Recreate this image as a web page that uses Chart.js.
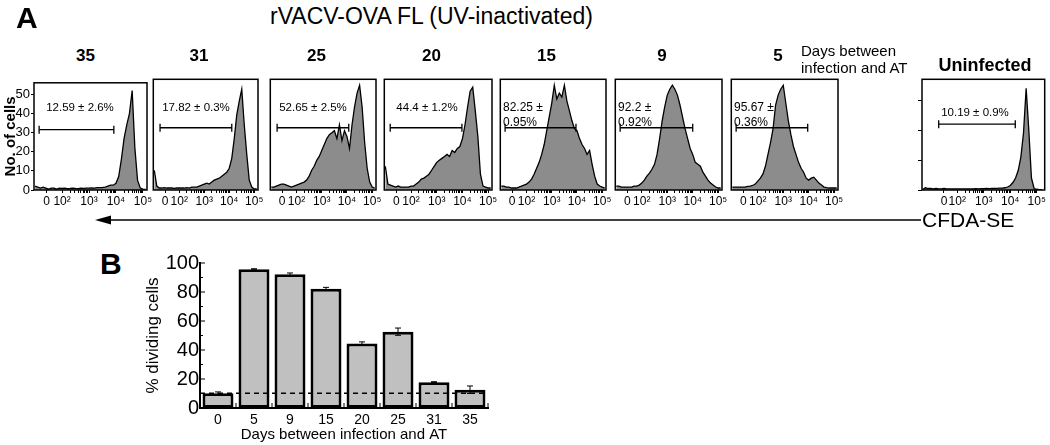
<!DOCTYPE html>
<html>
<head>
<meta charset="utf-8">
<script src="https://cdn.jsdelivr.net/npm/chart.js@4.4.0/dist/chart.umd.min.js"></script>
<style>
  body { margin: 0; background: #fff; }
  #fig { position: relative; width: 1050px; height: 445px; overflow: hidden;
         font-family: "Liberation Sans", Arial, sans-serif; color: #000; }
  #fig canvas { position: absolute; }
  .t { position: absolute; white-space: nowrap; line-height: 1; }
  .b { font-weight: bold; }
</style>
</head>
<body>
<div id="fig"></div>
<script>
// CFSE histograms: x = position on the biexponential display in decades ("0" sits at ~1.45), y = no. of cells
const cfseGrid = [1.0,1.1,1.2,1.3,1.4,1.5,1.6,1.7,1.8,1.9,2.0,2.1,2.2,2.3,2.4,2.5,2.6,2.7,2.8,2.9,
                  3.0,3.1,3.2,3.3,3.4,3.5,3.6,3.7,3.8,3.9,4.0,4.1,4.2,4.3,4.4,4.5,4.6,4.7,4.8,4.9,5.0,5.1];
const uninfGrid = [0.7,0.8,0.9,1.0,1.1,1.2,1.3,1.4,1.5,1.6,1.7,1.8,1.9,2.0,2.1,2.2,2.3,2.4,2.5,2.6,2.7,2.8,2.9,
                   3.0,3.1,3.2,3.3,3.4,3.5,3.6,3.7,3.8,3.9,4.0,4.1,4.2,4.3,4.4,4.5,4.6,4.7,4.8,4.9,5.0,5.1,5.2];

const day35 = [2,1.5,1,1.5,1,0.5,1,1,0.5,1, 0.8,1,0.7,0.8,1,0.8,0.7,1,0.9,1,
               1,1.1,1,1.2,1.2,1.3,1.5,2,2.5,2.5, 3.5,7,16,27,34,40,52,22,5,1, 0.5,0.3];
const day31 = [10,2,1,1,1.2,1,1,1,0.8,1, 1,1,1,1.2,1,1.5,1.5,1.5,2,2.5,
               3,3.5,3,4,5,5.5,6,7,8,9, 11,16,26,38,45,51,33,18,5,1.5, 0.5,0.5];
const day25 = [1.5,1.5,2,2.5,3,3,2.5,2,1.5,2, 2.5,3,3.5,4,5,7,10,12,15,17,
               20,23,26,28,29,30,26,33,25,30, 27,21,33,42,49,53,42,24,11,4, 1.5,1];
const day20 = [12,3,2.5,2,1.5,2,1.5,1.5,1.5,1.5, 2,2,3,4,5.5,6,7,8,10,12,
               14,15,16,17,18,17,20,19,21,22, 26,33,42,50,52,40,27,8,2,1.5, 1,1];
const day15 = [2,2,1.5,1.5,1,1,1,1.5,2,2.5, 3,4,5.5,8,11,14,18,23,30,37,
               44,53,46,49,47,53,45,40,35,31, 30,26,23,21,18,20,13,7,3,2, 1.5,1];
const day9  = [2,2,1.5,1.5,1.5,1.5,1.5,2,2,2.5, 3.5,5,7,8.5,10.5,13,18,26,35,42,
               48,51,53,51,48,43,37,31,26,21, 18,14,13,12,9,7,5,3.5,2.5,1.5, 1,1];
const day5  = [1.5,1.5,1.5,1.5,1.5,1.5,1.8,2,2.3,3, 4.5,6,8,12,18,24,31,43,48,51,
               53,44,35,28,22,18,14,11,9,6, 5,6,6.5,5,3.5,2.5,1.5,1.2,1,1, 1,1];
const uninfected = [0.5,1.5,1, 1,0.8,1,0.7,0.8,1,0.7,0.8,0.7,0.8, 0.7,0.8,0.7,0.8,0.8,0.7,0.8,0.9,0.8,0.9,
                    0.9,1,0.9,1,1,1.1,1.2,1.2,1.5,2, 3,5,8,13,22,38,68,40,8,1, 0.5,0.3,0.3];

const panelDays = ['35','31','25','20','15','9','5'];
const panelStats = ['12.59 ± 2.6%','17.82 ± 0.3%','52.65 ± 2.5%','44.4 ± 1.2%',
                    '82.25 ±\n0.95%','92.2 ±\n0.92%','95.67 ±\n0.36%'];
const gateLow  = [1.15,1.23,1.23,1.19,1.15,1.15,1.15];
const gateHigh = [3.92,4.10,4.07,3.98,3.96,4.00,3.96];
const gateLevel = 31.5;
const uninfStat = '10.19 ± 0.9%';
const uninfGate = [1.30, 4.19, 44];

// panel B
const barDays = ['0','5','9','15','20','25','31','35'];
const pctDividing = [10.19, 95.67, 92.2, 82.25, 44.4, 52.65, 17.82, 12.59];
const pctError = [0.9, 0.36, 0.92, 0.95, 1.2, 2.5, 0.3, 2.6];
const uninfectedPct = 10.19;

const FONT = '"Liberation Sans", Arial, sans-serif';
Chart.defaults.font.family = FONT;
Chart.defaults.color = '#000';

const fig = document.getElementById('fig');
const BOX_TOP = 77, BOX_H = 113, XAXIS_H = 22, PAD_T = 3;
const panelBoxes = [[34,147],[150,258],[267,376],[381,492],[497,606],[612,722],[728,838]];

function addText(txt, left, top, size, cls, extra) {
  const d = document.createElement('div');
  d.className = 't ' + (cls || '');
  d.style.left = left + 'px';
  d.style.top = top + 'px';
  d.style.fontSize = size + 'px';
  if (extra) Object.assign(d.style, extra);
  d.textContent = txt;
  fig.appendChild(d);
  return d;
}

function addCanvas(left, top, w, h) {
  const c = document.createElement('canvas');
  c.width = w; c.height = h;
  c.style.left = left + 'px'; c.style.top = top + 'px';
  c.style.width = w + 'px'; c.style.height = h + 'px';
  fig.appendChild(c);
  return c;
}

const sup = { 2: '²', 3: '³', 4: '⁴', 5: '⁵' };
function cfseTicks(zeroAt) {
  const t = [zeroAt, 2, 3, 4, 5];
  for (let d = 2; d <= 4; d++) for (let k = 2; k <= 9; k++) t.push(d + Math.log10(k));
  return t.sort((a, b) => a - b);
}
function cfseLabel(v, zeroAt) {
  if (Math.abs(v - zeroAt) < 1e-6) return '0';
  if (Math.abs(v - Math.round(v)) < 1e-6 && sup[Math.round(v)]) return '10' + sup[Math.round(v)];
  return '';
}

const boxPlugin = {
  id: 'box',
  afterDatasetsDraw(chart) {
    const a = chart.chartArea, c = chart.ctx;
    c.save();
    c.strokeStyle = '#000';
    c.lineWidth = 1.5;
    c.strokeRect(a.left, a.top, a.right - a.left, a.bottom - a.top);
    c.restore();
  }
};

function histChart(canvas, xs, ys, o) {
  const ticks = cfseTicks(o.zeroAt);
  return new Chart(canvas, {
    type: 'line',
    data: {
      datasets: [
        { data: [{ x: o.gLo, y: o.gY }, { x: o.gHi, y: o.gY }], borderColor: '#000', borderWidth: 1.3,
          pointStyle: 'line', rotation: 90, pointRadius: 4, pointBorderWidth: 1.3, pointBorderColor: '#000',
          fill: false, order: 0 },
        { data: xs.map((x, i) => ({ x: x, y: ys[i] })), borderColor: '#000', borderWidth: 1.3,
          backgroundColor: '#8c8c8c', fill: 'origin', pointRadius: 0, tension: 0, order: 1 }
      ]
    },
    options: {
      responsive: false, animation: false, events: [],
      layout: { padding: { left: o.padL, right: o.padR, top: PAD_T, bottom: 0 } },
      plugins: { legend: { display: false }, tooltip: { enabled: false } },
      scales: {
        x: {
          type: 'linear', min: o.xMin, max: o.xMax,
          afterBuildTicks: s => { s.ticks = ticks.map(v => ({ value: v })); },
          afterFit: s => { s.height = XAXIS_H; },
          ticks: { autoSkip: false, maxRotation: 0, minRotation: 0, padding: 1,
                   font: { size: 12 }, callback: v => cfseLabel(v, o.zeroAt) },
          grid: { drawOnChartArea: false, tickLength: 3, color: '#000' },
          border: { display: false }
        },
        y: o.y
      }
    },
    plugins: [boxPlugin]
  });
}

// ---- panel A histograms
const hists = [day35, day31, day25, day20, day15, day9, day5];
hists.forEach((ys, i) => {
  const [L, R] = panelBoxes[i];
  const W = R - L;
  const first = i === 0;
  const yAxisW = first ? 34 : 0;
  const padL = first ? 0 : 2;
  const padR = 12;
  const cLeft = L - yAxisW - padL;
  const cv = addCanvas(cLeft, BOX_TOP - PAD_T, yAxisW + padL + W + padR, PAD_T + BOX_H + XAXIS_H);
  const yOpt = first ? {
    display: true, min: 0, max: 56,
    afterFit: s => { s.width = yAxisW; },
    ticks: { stepSize: 10, includeBounds: false, font: { size: 13 }, padding: 1 },
    grid: { drawOnChartArea: false, tickLength: 3, color: '#000' },
    border: { display: false },
    title: { display: true, text: 'No. of cells', font: { size: 15, weight: 'bold' }, padding: { top: 2, bottom: 0 } }
  } : { display: false, min: 0, max: 56 };
  histChart(cv, cfseGrid, ys, { padL, padR, xMin: 0.96, xMax: 5.15, zeroAt: 1.43,
    gLo: gateLow[i], gHi: gateHigh[i], gY: gateLevel, y: yOpt });

  addText(panelDays[i], (L + R) / 2 - 5, 47, 17, 'b', { transform: 'translateX(-50%)' });
  const st = panelStats[i];
  if (st.indexOf('\n') < 0) {
    addText(st, L + 46, 102, 11.5, '', { transform: 'translateX(-50%)' });
  } else {
    const parts = st.split('\n');
    addText(parts[0], L + 6, 101, 12);
    addText(parts[1], L + 6, 116, 12);
  }
});

// uninfected control
{
  const L = 922, R = 1047, W = R - L, yAxisW = 6, padR = 3;
  const cv = addCanvas(L - yAxisW, BOX_TOP - PAD_T, yAxisW + W + padR, PAD_T + BOX_H + XAXIS_H);
  histChart(cv, uninfGrid, uninfected, { padL: 0, padR, xMin: 0.67, xMax: 5.3, zeroAt: 1.5,
    gLo: uninfGate[0], gHi: uninfGate[1], gY: uninfGate[2],
    y: { display: true, min: 0, max: 74, afterFit: s => { s.width = yAxisW; },
         ticks: { display: false, stepSize: 20, includeBounds: false },
         grid: { drawOnChartArea: false, tickLength: 4, color: '#000' }, border: { display: false } } });
  addText(uninfStat, 975, 107, 11.5, '', { transform: 'translateX(-50%)' });
  addText('Uninfected', 985, 56, 18, 'b', { transform: 'translateX(-50%)' });
}

addText('A', 16, 3, 30, 'b');
addText('rVACV-OVA FL (UV-inactivated)', 270, 5, 23);
addText('Days between', 801, 43, 15);
addText('infection and AT', 801, 60, 15);
addText('CFDA-SE', 922, 209, 21);
addText('B', 100, 249, 30, 'b');

// CFDA-SE arrow
const svgNS = 'http://www.w3.org/2000/svg';
const svg = document.createElementNS(svgNS, 'svg');
svg.setAttribute('width', 1050); svg.setAttribute('height', 445);
svg.style.position = 'absolute'; svg.style.left = '0'; svg.style.top = '0';
svg.innerHTML = '<line x1="108" y1="220" x2="921" y2="220" stroke="#000" stroke-width="1.5"/>' +
                '<polygon points="95,220 111,215.5 111,224.5" fill="#000"/>';
fig.appendChild(svg);

// ---- panel B bar chart
const barExtras = {
  id: 'barExtras',
  afterDatasetsDraw(chart) {
    const c = chart.ctx, a = chart.chartArea, ys = chart.scales.y;
    const meta = chart.getDatasetMeta(0);
    c.save();
    c.strokeStyle = '#000';
    // inward ticks on y
    c.lineWidth = 1;
    for (let v = 0; v <= 100; v += 10) {
      const y = ys.getPixelForValue(v), len = v % 20 === 0 ? 5 : 3;
      c.beginPath(); c.moveTo(a.left, y); c.lineTo(a.left + len, y); c.stroke();
    }
    // inward ticks on x
    const step = (a.right - a.left) / barDays.length;
    for (let k = 0; k <= barDays.length * 4; k++) {
      const x = a.left + k * step / 4, len = k % 4 === 0 ? 5 : 3;
      c.beginPath(); c.moveTo(x, a.bottom); c.lineTo(x, a.bottom - len); c.stroke();
    }
    // error bars
    meta.data.forEach((bar, i) => {
      const yt = ys.getPixelForValue(pctDividing[i] + pctError[i]);
      const yb = ys.getPixelForValue(pctDividing[i] - pctError[i]);
      c.beginPath();
      c.moveTo(bar.x, yt); c.lineTo(bar.x, yb);
      c.moveTo(bar.x - 3, yt); c.lineTo(bar.x + 3, yt);
      c.moveTo(bar.x - 3, yb); c.lineTo(bar.x + 3, yb);
      c.stroke();
    });
    // uninfected background level
    const yl = ys.getPixelForValue(uninfectedPct);
    c.lineWidth = 1.5;
    c.setLineDash([5, 4]);
    c.beginPath(); c.moveTo(a.left, yl); c.lineTo(a.right, yl); c.stroke();
    c.restore();
  }
};

const barCv = addCanvas(143, 250, 57 + 288 + 22, 13 + 145 + 37);
new Chart(barCv, {
  type: 'bar',
  data: {
    labels: barDays,
    datasets: [{ data: pctDividing, backgroundColor: '#c0c0c0', borderColor: '#000', borderWidth: 3,
                 borderSkipped: false, barPercentage: 0.86, categoryPercentage: 1 }]
  },
  options: {
    responsive: false, animation: false, events: [],
    layout: { padding: { left: 0, right: 22, top: 13, bottom: 0 } },
    plugins: { legend: { display: false }, tooltip: { enabled: false } },
    scales: {
      x: {
        afterFit: s => { s.height = 37; },
        ticks: { font: { size: 14 }, padding: 4 },
        grid: { display: false, drawTicks: false },
        border: { display: true, color: '#000', width: 2 },
        title: { display: true, text: 'Days between infection and AT', font: { size: 15 }, padding: { top: 0, bottom: 1 } }
      },
      y: {
        min: 0, max: 100,
        afterFit: s => { s.width = 57; },
        ticks: { stepSize: 20, font: { size: 20 }, padding: 1 },
        grid: { display: false, drawTicks: false },
        border: { display: true, color: '#000', width: 2 },
        title: { display: true, text: '% dividing cells', font: { size: 17 }, padding: { top: 0, bottom: 0 } }
      }
    }
  },
  plugins: [barExtras]
});
</script>
</body>
</html>
